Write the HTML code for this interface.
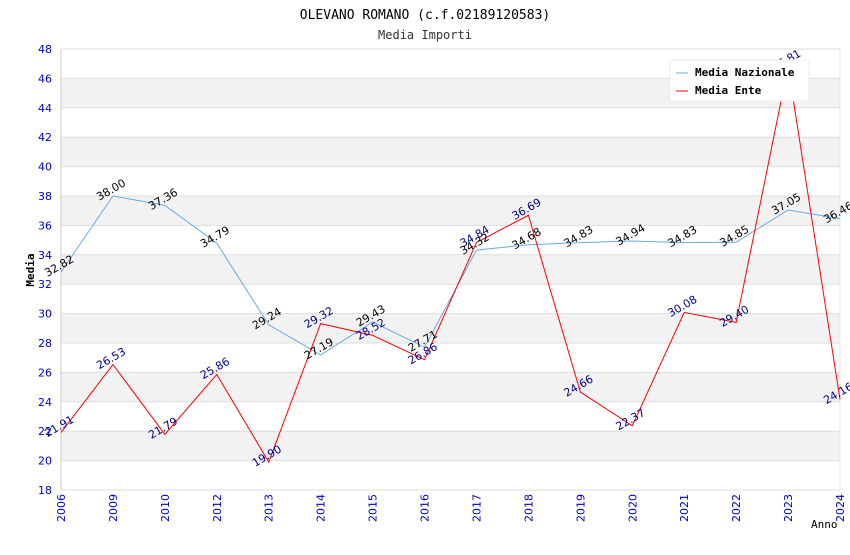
<!DOCTYPE html>
<html><head><meta charset="utf-8"><style>
body{margin:0;background:#fff;}
svg text{font-family:"DejaVu Sans","Liberation Sans",sans-serif;}
svg text.mono{font-family:"DejaVu Sans Mono","Liberation Mono",monospace;}
</style></head><body>
<svg id="chart" width="850" height="550" xmlns="http://www.w3.org/2000/svg">
<text class="mono" x="425" y="19" text-anchor="middle" font-size="13" fill="#000">OLEVANO ROMANO (c.f.02189120583)</text>
<text class="mono" x="425" y="39" text-anchor="middle" font-size="12" fill="#333">Media Importi</text>
<g id="grid"></g><g id="axes"></g><g id="series"></g><g id="labels"></g>
<text class="mono" x="34" y="270" font-size="11" font-weight="bold" transform="rotate(-90 34 270)" text-anchor="middle">Media</text>
<text class="mono" x="811" y="528" font-size="11" fill="#000">Anno</text>
<g>
<rect x="670" y="60" width="139" height="41" fill="#fff" stroke="#eee"/>
<line x1="676" y1="73" x2="688" y2="73" stroke="#6aa9e9" stroke-width="1"/>
<text class="mono" x="695" y="76" font-size="11" font-weight="bold">Media Nazionale</text>
<line x1="676" y1="91" x2="688" y2="91" stroke="#ff0000" stroke-width="1"/>
<text class="mono" x="695" y="94" font-size="11" font-weight="bold">Media Ente</text>
</g>
</svg>
<script>
const categories=["2006","2009","2010","2012","2013","2014","2015","2016","2017","2018","2019","2020","2021","2022","2023","2024"];
const nazionale=[32.82,38.00,37.36,34.79,29.24,27.19,29.43,27.71,34.32,34.68,34.83,34.94,34.83,34.85,37.05,36.46];
const ente=[21.91,26.53,21.79,25.86,19.90,29.32,28.52,26.86,34.84,36.69,24.66,22.37,30.08,29.40,46.81,24.16];
const yTicks=[18,20,22,24,26,28,30,32,34,36,38,40,42,44,46,48];
const NS="http://www.w3.org/2000/svg";
const X0=61,X1=840,Y0=490,Y1=49,YMIN=18,YMAX=48;
const x=i=>X0+(X1-X0)*i/(categories.length-1);
const y=v=>Y0-(v-YMIN)/(YMAX-YMIN)*(Y0-Y1);
function mk(tag,attrs,parent){const e=document.createElementNS(NS,tag);for(const k in attrs)e.setAttribute(k,attrs[k]);document.getElementById(parent).appendChild(e);return e;}
for(let i=0;i<yTicks.length-1;i++){
  const a=yTicks[i],b=yTicks[i+1];
  if(a%4===0&&a>=20){const r=mk("rect",{x:X0,y:y(b),width:X1-X0,height:y(a)-y(b),fill:"#f2f2f2"},"grid");
  
  }
}
yTicks.forEach(v=>{
  const l=mk("line",{x1:X0,x2:X1,y1:y(v),y2:y(v),stroke:"#ddd","stroke-width":1},"grid");
  
  
  const t=mk("text",{x:X0-9,y:y(v)+4,"text-anchor":"end","font-size":11,fill:"#0000cc"},"axes");
  t.textContent=v;
  
  
});
categories.forEach((c,i)=>{
  const t=mk("text",{x:x(i)+4,y:Y0+4,"text-anchor":"end","font-size":11,fill:"#0000cc",transform:`rotate(-90 ${x(i)+4} ${Y0+4})`},"axes");
  t.textContent=c;
  
  
});
const ax=mk("line",{x1:X0,x2:X0,y1:Y1,y2:Y0,stroke:"#ccc"},"axes");


const ax2=mk("line",{x1:X1,x2:X1,y1:Y1,y2:Y0,stroke:"#e6e6e6"},"axes");


function series(vals,color,lab,name){
  const p=mk("polyline",{points:vals.map((v,i)=>x(i)+","+y(v)).join(" "),fill:"none",stroke:color,"stroke-width":1},"series");
  
  
  vals.forEach((v,i)=>{
    const tx=x(i),ty=y(v)-3;
    const t=mk("text",{x:tx,y:ty,"text-anchor":"middle","font-size":11,fill:lab,transform:`rotate(-30 ${tx} ${ty})`},"labels");
    t.textContent=v.toFixed(2);
    
    
  });
}
series(nazionale,"#6aa9e9","#000","nazionale");
series(ente,"#ff0000","#00008b","ente");
</script>
</body></html>
